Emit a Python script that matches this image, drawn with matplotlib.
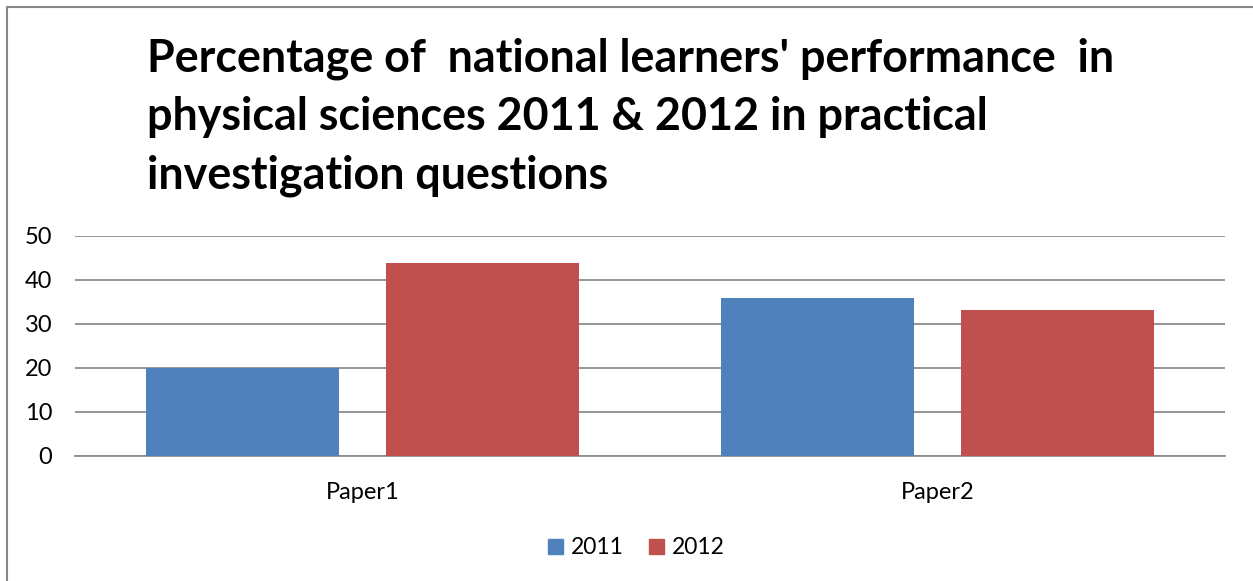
import matplotlib.pyplot as plt
import matplotlib.patches as mpatches
import numpy as np

# Datos del gráfico
papeles = ['Paper1', 'Paper2']
anios = ['2011', '2012']
valores_2011 = [20.0, 35.9]
valores_2012 = [43.8, 33.2]
colores = ['#4F81BD', '#C0504D']
titulo = ("Percentage of  national learners' performance  in\n"
          "physical sciences 2011 & 2012 in practical\n"
          "investigation questions")

plt.rcParams['font.family'] = ['Lato', 'DejaVu Sans']

fig = plt.figure(figsize=(12.53, 5.81), dpi=100)

# Marco gris alrededor del gráfico
marco = mpatches.Rectangle((7 / 1253, -0.05), 1.1, 1 - 7 / 581 + 0.05,
                           transform=fig.transFigure, fill=False,
                           edgecolor='#878787', linewidth=1.5)
fig.patches.append(marco)

fig.text(147 / 1253, 1 - 37 / 581, titulo, ha='left', va='top',
         fontsize=32.3, fontweight='bold', linespacing=1.49, color='black')

ax = fig.add_axes([75 / 1253, 1 - 456 / 581, 1150 / 1253, 220 / 581])

x = np.arange(len(papeles))
ancho = 0.334
desp = 0.2087
ax.bar(x - desp, valores_2011, ancho, color=colores[0], zorder=3)
ax.bar(x + desp, valores_2012, ancho, color=colores[1], zorder=3)

ax.set_xlim(-0.5, 1.5)
ax.set_ylim(0, 50)
ax.set_yticks(range(0, 51, 10))
ax.yaxis.grid(True, color='#8C8C8C', linewidth=1.3, zorder=0)
ax.set_axisbelow(True)
for lado in ['left', 'right', 'top']:
    ax.spines[lado].set_visible(False)
ax.spines['bottom'].set_color('#8C8C8C')
ax.spines['bottom'].set_linewidth(1.3)

ax.set_xticks(x)
ax.set_xticklabels(papeles)
ax.tick_params(axis='y', length=0, pad=16.5, labelsize=17)
ax.tick_params(axis='x', length=0, pad=19, labelsize=17)

handles = [mpatches.Patch(color=c, label=a) for c, a in zip(colores, anios)]
fig.legend(handles=handles, loc='center', ncol=2,
           bbox_to_anchor=(636 / 1253, 1 - 548 / 581), frameon=False,
           fontsize=16.5, handlelength=0.65, handleheight=0.65,
           handletextpad=0.35, columnspacing=1.1)

fig.savefig('out.png', dpi=100)
